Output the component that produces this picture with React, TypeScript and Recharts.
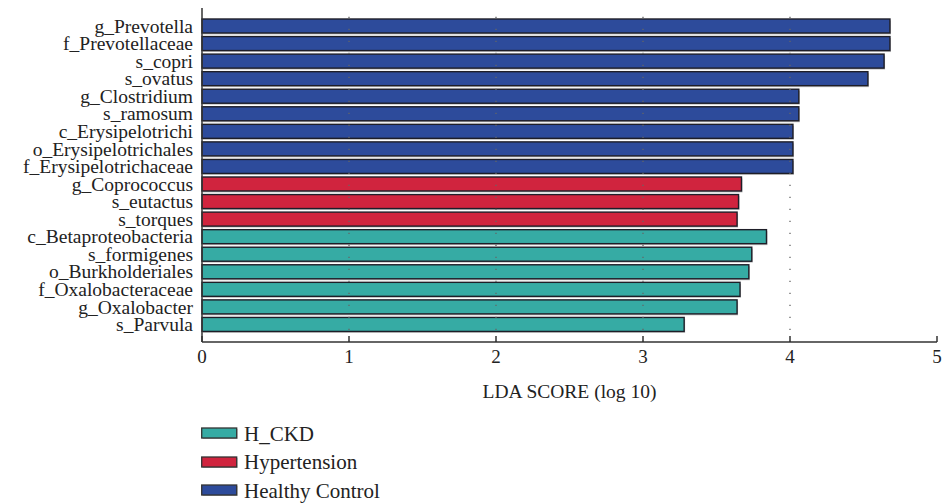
import React from "react";
import { BarChart, Bar, XAxis, YAxis, Cell, Legend, ReferenceLine } from "recharts";

const categories = [
	"g_Prevotella",
	"f_Prevotellaceae",
	"s_copri",
	"s_ovatus",
	"g_Clostridium",
	"s_ramosum",
	"c_Erysipelotrichi",
	"o_Erysipelotrichales",
	"f_Erysipelotrichaceae",
	"g_Coprococcus",
	"s_eutactus",
	"s_torques",
	"c_Betaproteobacteria",
	"s_formigenes",
	"o_Burkholderiales",
	"f_Oxalobacteraceae",
	"g_Oxalobacter",
	"s_Parvula",
];

const scores = [
	4.68, 4.68, 4.64, 4.53, 4.06, 4.06, 4.02, 4.02, 4.02,
	3.67, 3.65, 3.64,
	3.84, 3.74, 3.72, 3.66, 3.64, 3.28,
];

const groups = [
	"Healthy Control", "Healthy Control", "Healthy Control", "Healthy Control", "Healthy Control",
	"Healthy Control", "Healthy Control", "Healthy Control", "Healthy Control",
	"Hypertension", "Hypertension", "Hypertension",
	"H_CKD", "H_CKD", "H_CKD", "H_CKD", "H_CKD", "H_CKD",
];

const legendItems = ["H_CKD", "Hypertension", "Healthy Control"];
const xTicks = [0, 1, 2, 3, 4, 5];
const gridTicks = [1, 2, 3, 4];

const colors: Record<string, string> = {
	"Healthy Control": "#2d4b9b",
	Hypertension: "#d0243e",
	H_CKD: "#36aba4",
};

const FONT = "Liberation Serif";

const data = categories.map((name, i) => ({ name, score: scores[i], group: groups[i] }));

const ShadowBar = (props: any) => {
	const { x, y, width, height, fill } = props;
	if (!width || width <= 0) return null;
	return (
		<g>
			<rect x={x + 1} y={y + 1.5} width={width} height={height} fill="#c4c4c4" />
			<rect x={x} y={y} width={width} height={height} fill={fill} stroke="#1e1e28" strokeWidth={1.4} />
		</g>
	);
};

const LegendBox = () => (
	<div style={{ fontFamily: FONT, fontSize: 21, color: "#222" }}>
		{legendItems.map((g) => (
			<div key={g} style={{ display: "flex", alignItems: "center", height: 28.5 }}>
				<svg width={37} height={14} style={{ marginRight: 6 }}>
					<rect x={1.5} y={2} width={35} height={10} fill="#b0b0b0" />
					<rect x={0.7} y={1} width={35} height={10} fill={colors[g]} stroke="#333" strokeWidth={1.3} />
				</svg>
				<span>{g}</span>
			</div>
		))}
	</div>
);

export default function App() {
	return (
		<div style={{ position: "absolute", left: 0, top: 0, background: "#fff", fontFamily: FONT }}>
			<BarChart
				width={942}
				height={504}
				data={data}
				layout="vertical"
				margin={{ top: 8, right: 5, left: 0, bottom: 102 }}
				barSize={14}
				style={{ fontFamily: FONT }}
			>
				<XAxis
					type="number"
					dataKey="score"
					domain={[0, 5]}
					ticks={xTicks}
					height={60}
					tickSize={-6}
					tickMargin={14}
					stroke="#333"
					strokeWidth={1.5}
					tick={{ fill: "#222", fontSize: 19, fontFamily: FONT }}
					label={{ value: "LDA SCORE (log 10)", position: "insideBottom", offset: 0, fill: "#222", fontSize: 19.5, fontFamily: FONT, dy: -4 }}
				/>
				<XAxis
					xAxisId="top"
					orientation="top"
					type="number"
					domain={[0, 5]}
					ticks={xTicks}
					height={0}
					tickSize={-6}
					tick={false}
					stroke="#333"
					strokeWidth={1.5}
				/>
				<YAxis
					type="category"
					dataKey="name"
					width={202}
					tickLine={false}
					tickSize={0}
					tickMargin={9}
					interval={0}
					padding={{ top: 9, bottom: 9 }}
					stroke="#333"
					strokeWidth={1.5}
					tick={{ fill: "#222", fontSize: 19.5, fontFamily: FONT }}
				/>
				<YAxis
					yAxisId="right"
					orientation="right"
					type="category"
					dataKey="name"
					width={0}
					tick={false}
					tickLine={false}
					stroke="#333"
					strokeWidth={1.5}
				/>
				<Bar dataKey="score" shape={<ShadowBar />} isAnimationActive={false}>
					{data.map((d) => (
						<Cell key={d.name} fill={colors[d.group]} />
					))}
				</Bar>
				{gridTicks.map((t) => (
					<ReferenceLine key={t} x={t} stroke="#666" strokeWidth={1.3} strokeDasharray="1.3 10.7" />
				))}
				<Legend
					layout="vertical"
					align="center"
					verticalAlign="middle"
					wrapperStyle={{ left: 201, top: 420, width: 300 }}
					content={() => <LegendBox />}
				/>
			</BarChart>
		</div>
	);
}
